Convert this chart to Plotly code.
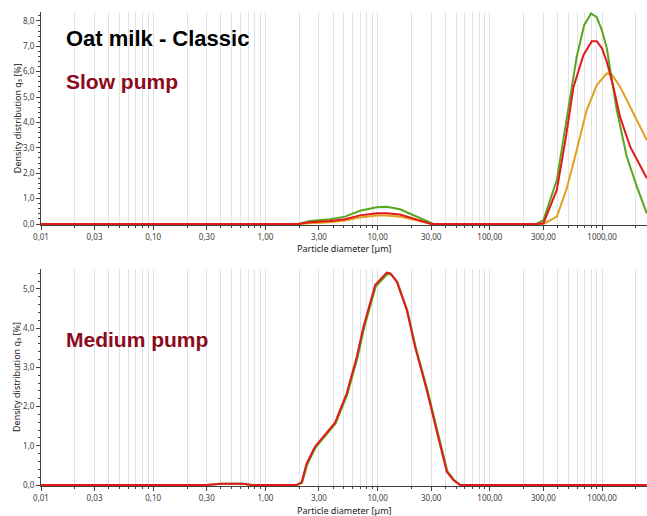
import plotly.graph_objects as go

# ---------------- data ----------------
# Top panel (Slow pump) - particle diameter in µm, density q3 in %
slow_green_x = [0.01, 1.96, 2.49, 3.76, 5.12, 6.96, 9.8, 12.05, 15.8, 20.8, 27.4, 31.4,
                260, 300, 395, 501, 594, 692, 798, 897, 994, 1101, 1350, 1660, 2040, 2500]
slow_green_y = [0, 0, 0.12, 0.19, 0.29, 0.52, 0.66, 0.68, 0.58, 0.35, 0.12, 0,
                0, 0.15, 1.73, 4.49, 6.59, 7.83, 8.29, 8.14, 7.64, 6.92, 4.49, 2.65, 1.47, 0.42]

slow_red_x = [0.01, 1.96, 2.49, 3.76, 5.12, 6.96, 9.8, 12.05, 15.8, 20.8, 27.4, 30.0,
              260, 300, 395, 475, 556, 681, 809, 897, 997, 1101, 1259, 1445, 1780, 2500]
slow_red_y = [0, 0, 0.07, 0.12, 0.19, 0.34, 0.42, 0.42, 0.37, 0.22, 0.05, 0,
              0, 0.03, 1.34, 3.4, 5.4, 6.65, 7.2, 7.2, 6.92, 6.39, 5.41, 4.22, 3.04, 1.8]

slow_orange_x = [0.01, 1.96, 2.49, 3.76, 5.12, 6.96, 9.8, 12.05, 15.8, 20.8, 27.4, 30.0,
                 300, 395, 484, 594, 729, 897, 1101, 1215, 1445, 1900, 2500]
slow_orange_y = [0, 0, 0.03, 0.07, 0.14, 0.26, 0.33, 0.33, 0.29, 0.18, 0.05, 0,
                 0, 0.29, 1.4, 2.91, 4.49, 5.47, 5.93, 5.9, 5.41, 4.36, 3.31]

# Bottom panel (Medium pump)
med_red_x = [0.01, 0.3, 0.4, 0.51, 0.63, 0.76, 1.9, 2.1, 2.33, 2.77, 3.18, 4.17, 5.3, 6.52,
             7.47, 9.5, 12.05, 13.0, 14.8, 18.2, 21.5, 27.4, 33.7, 41.3, 47.3, 54.2, 2500]
med_red_y = [0, 0, 0.03, 0.04, 0.03, 0, 0, 0.07, 0.55, 0.98, 1.19, 1.59, 2.34, 3.27,
             4.04, 5.1, 5.42, 5.4, 5.19, 4.46, 3.53, 2.42, 1.36, 0.34, 0.13, 0, 0]

med_green_x = [0.01, 0.3, 0.4, 0.51, 0.63, 0.76, 1.9, 2.12, 2.36, 2.8, 3.22, 4.22, 5.36, 6.6,
               7.56, 9.6, 12.2, 13.2, 15.0, 18.4, 21.8, 27.8, 34.2, 41.8, 47.8, 54.8, 2500]
med_green_y = [0, 0, 0.03, 0.04, 0.03, 0, 0, 0.06, 0.53, 0.96, 1.17, 1.57, 2.31, 3.24,
               4.0, 5.06, 5.38, 5.37, 5.17, 4.45, 3.52, 2.42, 1.36, 0.35, 0.13, 0, 0]

x_tick_vals = [0.01, 0.03, 0.1, 0.3, 1, 3, 10, 30, 100, 300, 1000]
x_tick_text = ["0,01", "0,03", "0,10", "0,30", "1,00", "3,00", "10,00", "30,00",
               "100,00", "300,00", "1000,00"]
top_y_vals = [0, 1, 2, 3, 4, 5, 6, 7, 8]
top_y_text = ["0,0", "1,0", "2,0", "3,0", "4,0", "5,0", "6,0", "7,0", "8,0"]
bot_y_vals = [0, 1, 2, 3, 4, 5]
bot_y_text = ["0,0", "1,0", "2,0", "3,0", "4,0", "5,0"]

title_text = "Oat milk - Classic"
top_label = "Slow pump"
bottom_label = "Medium pump"
x_title = "Particle diameter [µm]"
y_title = "Density distribution q₃ [%]"

# ---------------- styles ----------------
GREEN = "#5aa51e"
RED = "#e31a1c"
ORANGE = "#e0a020"
DARKRED = "#8c0a1c"
GRID = "#e3e3e3"
AXIS = "#404040"
TICKFONT = dict(family="Noto Sans, Open Sans, sans-serif", size=8, color="#404040")

minor_vals = []
for e in range(-2, 4):
    for m in range(1, 10):
        v = m * 10 ** e
        if v <= 2600:
            minor_vals.append(v)

fig = go.Figure()

def add(x, y, color, xa, ya):
    fig.add_trace(go.Scatter(x=x, y=y, mode="lines", line=dict(color=color, width=2),
                             xaxis=xa, yaxis=ya, showlegend=False, hoverinfo="skip"))

add(slow_orange_x, slow_orange_y, ORANGE, "x", "y")
add(slow_green_x, slow_green_y, GREEN, "x", "y")
add(slow_red_x, slow_red_y, RED, "x", "y")
add(med_green_x, med_green_y, GREEN, "x2", "y2")
add(med_red_x, med_red_y, RED, "x2", "y2")

xaxis_common = dict(
    type="log", range=[-2, 3.40], domain=[0, 1], automargin=False,
    tickvals=x_tick_vals, ticktext=x_tick_text, tickfont=TICKFONT,
    ticks="outside", ticklen=4, tickcolor=AXIS, tickwidth=1,
    showline=True, linecolor=AXIS, linewidth=1,
    showgrid=True, gridcolor=GRID, gridwidth=1, zeroline=False,
    minor=dict(tickvals=minor_vals, ticks="outside", ticklen=2, tickcolor=AXIS,
               showgrid=True, gridcolor=GRID, gridwidth=1),
)
yaxis_common = dict(
    tickfont=TICKFONT, ticks="outside", ticklen=4, tickcolor=AXIS, tickwidth=1,
    showline=True, linecolor=AXIS, linewidth=1, showgrid=False, zeroline=False,
    automargin=False,
    minor=dict(dtick=0.2, tick0=0, ticks="outside", ticklen=2, tickcolor=AXIS, showgrid=False),
)

fig.update_layout(
    width=647, height=516,
    margin=dict(l=41, r=0, t=12, b=30, autoexpand=False),
    paper_bgcolor="white", plot_bgcolor="white",
    xaxis=dict(**xaxis_common, anchor="y"),
    yaxis=dict(**yaxis_common, domain=[0.5506, 1], range=[-0.04, 8.35],
               tickvals=top_y_vals, ticktext=top_y_text, anchor="x"),
    xaxis2=dict(**xaxis_common, anchor="y2"),
    yaxis2=dict(**yaxis_common, domain=[0, 0.4578], range=[-0.025, 5.51],
                tickvals=bot_y_vals, ticktext=bot_y_text, anchor="x2"),
    showlegend=False,
)

ann_font_small = dict(family="Noto Sans, Open Sans, sans-serif", size=9, color="#202020")
annotations = [
    dict(text=title_text, x=0.038, y=0.945, xref="paper", yref="paper", xanchor="left",
         yanchor="middle", showarrow=False,
         font=dict(family="Liberation Sans, Arial, sans-serif", size=22, color="black", weight="bold")),
    dict(text=top_label, x=0.038, y=0.854, xref="paper", yref="paper", xanchor="left",
         yanchor="middle", showarrow=False,
         font=dict(family="Liberation Sans, Arial, sans-serif", size=21, color=DARKRED, weight="bold")),
    dict(text=bottom_label, x=0.038, y=0.310, xref="paper", yref="paper", xanchor="left",
         yanchor="middle", showarrow=False,
         font=dict(family="Liberation Sans, Arial, sans-serif", size=21, color=DARKRED, weight="bold")),
    dict(text=y_title, x=-0.0396, y=0.776, xref="paper", yref="paper", textangle=-90,
         xanchor="center", yanchor="middle", showarrow=False, font=ann_font_small),
    dict(text=y_title, x=-0.0396, y=0.23, xref="paper", yref="paper", textangle=-90,
         xanchor="center", yanchor="middle", showarrow=False, font=ann_font_small),
    dict(text=x_title, x=0.5, y=0.502, xref="paper", yref="paper",
         xanchor="center", yanchor="middle", showarrow=False, font=ann_font_small),
    dict(text=x_title, x=0.5, y=-0.0527, xref="paper", yref="paper",
         xanchor="center", yanchor="middle", showarrow=False, font=ann_font_small),
]
fig.update_layout(annotations=annotations)

# remove the default page margin so the 647x516 figure fills the window exactly
fig.write_html("out.html",
               config={"displayModeBar": False},
               post_script="document.body.style.margin='0';document.body.style.overflow='hidden';")
